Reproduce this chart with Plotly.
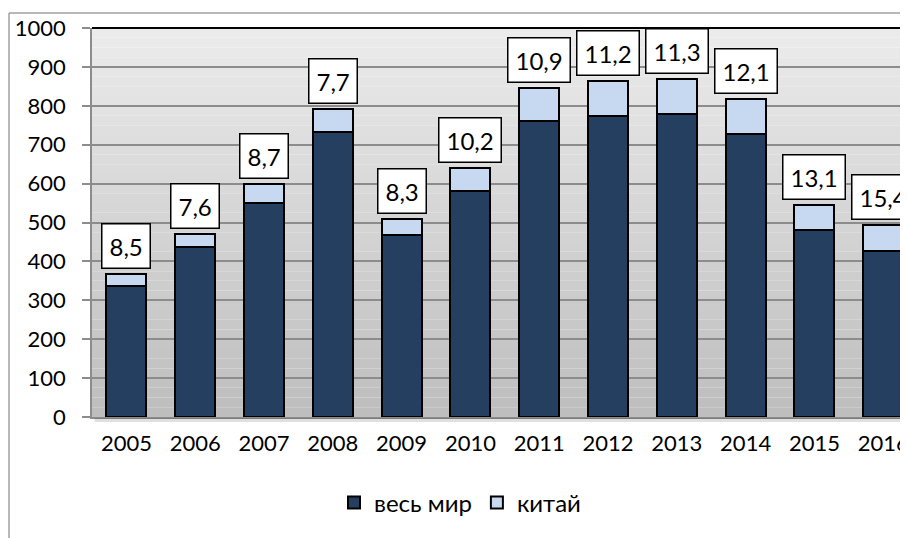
import plotly.graph_objects as go

years = ["2005", "2006", "2007", "2008", "2009", "2010", "2011", "2012", "2013", "2014", "2015", "2016"]
world = [337, 437, 551, 733, 467, 580, 762, 775, 780, 727, 482, 427]
china = [31, 34, 49, 59, 41, 61, 83, 89, 89, 90, 62, 67]
labels = ["8,5", "7,6", "8,7", "7,7", "8,3", "10,2", "10,9", "11,2", "11,3", "12,1", "13,1", "15,4"]
y_ticks = [0, 100, 200, 300, 400, 500, 600, 700, 800, 900, 1000]

FONT = "Lato"
FS = 22
fig = go.Figure()
fig.add_bar(x=years, y=world, name="весь мир", marker=dict(color="#243F60", line=dict(color="black", width=2)), width=0.58)
fig.add_bar(x=years, y=china, name="китай", marker=dict(color="#C6D9F1", line=dict(color="black", width=2)), width=0.58)

totals = [w + c for w, c in zip(world, china)]
for i, (tot, lab) in enumerate(zip(totals, labels)):
    fig.add_annotation(x=i, y=tot, text=lab, showarrow=False, yanchor="bottom", yshift=5,
                       font=dict(family=FONT, size=24, color="black"),
                       bgcolor="white", bordercolor="black", borderwidth=1.5, borderpad=7)

# gradient background
shapes = []
n = 40
top = (236, 236, 236)
bot = (190, 190, 190)
for i in range(n):
    t = (i + 0.5) / n
    c = tuple(int(bot[k] + (top[k] - bot[k]) * t) for k in range(3))
    shapes.append(dict(type="rect", xref="paper", yref="paper", x0=0, x1=1, y0=i / n, y1=(i + 1) / n,
                       fillcolor="rgb(%d,%d,%d)" % c, line=dict(width=0), layer="below"))
# soft shadow under plot area
shapes.append(dict(type="line", xref="paper", yref="paper", x0=0.003, x1=1, y0=-0.008, y1=-0.008,
                   line=dict(color="rgba(0,0,0,0.12)", width=4)))
# top border of plot area
shapes.append(dict(type="line", xref="paper", yref="paper", x0=0, x1=1, y0=1, y1=1, line=dict(color="black", width=2)))
# outer chart border
shapes.append(dict(type="line", xref="paper", yref="paper", x0=-0.1017, x1=1.1, y0=1.0386, y1=1.0386, line=dict(color="#a0a0a0", width=1.5)))
shapes.append(dict(type="line", xref="paper", yref="paper", x0=-0.1017, x1=-0.1017, y0=1.0386, y1=-0.35, line=dict(color="#a0a0a0", width=1.5)))

fig.update_layout(
    barmode="stack",
    width=900, height=530,
    margin=dict(l=84, r=0, t=20, b=121),
    paper_bgcolor="white",
    plot_bgcolor="rgba(0,0,0,0)",
    shapes=shapes,
    font=dict(family=FONT, size=FS, color="black"),
    showlegend=True,
    legend=dict(orientation="h", x=0.451, xanchor="center", y=-0.221, yanchor="middle",
                font=dict(family=FONT, size=24), itemsizing="constant", traceorder="normal",
                itemwidth=30),
    xaxis=dict(type="category", range=[-0.5, 11.36], showgrid=False, showline=True, linecolor="#8c8c8c", linewidth=1.5,
               ticks="", tickfont=dict(family=FONT, size=FS), ticklabelstandoff=6, fixedrange=True),
    yaxis=dict(range=[0, 1000], tickvals=y_ticks, showgrid=True, gridcolor="#8c8c8c", gridwidth=1.5,
               showline=True, linecolor="#8c8c8c", linewidth=1.5, ticks="outside", ticklen=8,
               tickcolor="#8c8c8c", tickwidth=1.5, tickfont=dict(family=FONT, size=FS),
               ticklabelstandoff=12, zeroline=False),
)
fig.write_html("out.html")
